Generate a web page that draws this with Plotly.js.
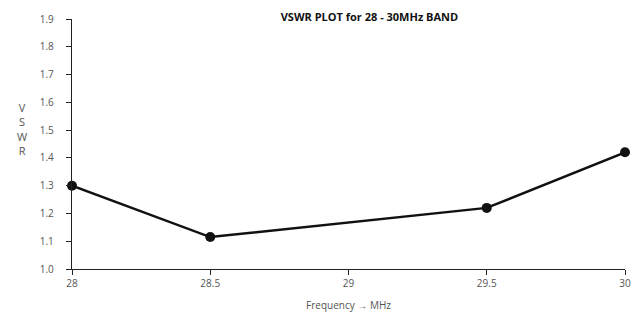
<!DOCTYPE html>
<html><head><meta charset="utf-8">
<script src="https://cdn.plot.ly/plotly-3.0.1.min.js"></script>
<style>html,body{margin:0;padding:0;background:#fff}</style>
</head><body>
<div id="chart" style="width:637px;height:312px"></div>
<script>
var freqMHz = [28, 28.5, 29.5, 30];
var vswr = [1.30, 1.115, 1.22, 1.42];
var xTicks = [28, 28.5, 29, 29.5, 30];
var xTickText = ["28", "28.5", "29", "29.5", "30"];
var yTicks = [1.0, 1.1, 1.2, 1.3, 1.4, 1.5, 1.6, 1.7, 1.8, 1.9];

var trace = {
  x: freqMHz, y: vswr, type: 'scatter', mode: 'lines+markers',
  line: {color: '#111', width: 2.5},
  marker: {color: '#111', size: 10},
  cliponaxis: false, hoverinfo: 'skip'
};
var layout = {
  width: 637, height: 312,
  margin: {l: 72, r: 12, t: 19, b: 43},
  paper_bgcolor: '#fff', plot_bgcolor: '#fff',
  showlegend: false,
  font: {family: 'Open Sans, sans-serif', color: '#555', size: 10},
  title: {text: '<b>VSWR PLOT for 28 - 30MHz BAND</b>', x: 0.58, xanchor: 'center', y: 0.945, yanchor: 'middle',
          font: {size: 11, color: '#111', family: 'Open Sans, sans-serif'}},
  xaxis: {range: [28, 30], tickvals: xTicks, ticktext: xTickText, showgrid: false, zeroline: false,
          showline: true, linecolor: '#222', linewidth: 1.2, ticks: 'outside', ticklen: 5, tickcolor: '#222',
          tickfont: {size: 10, color: '#555'},
          title: {text: 'Frequency → MHz', standoff: 12, font: {size: 10, color: '#555'}}},
  yaxis: {range: [1.0, 1.9], tickvals: yTicks, tickformat: '.1f', showgrid: false, zeroline: false,
          showline: true, linecolor: '#222', linewidth: 1.2, ticks: 'outside', ticklen: 5, tickcolor: '#222',
          ticklabelstandoff: 10,
          tickfont: {size: 10, color: '#555'}},
  annotations: [{text: 'V<br>S<br>W<br>R', xref: 'paper', yref: 'paper', x: -0.09, y: 0.56,
                 xanchor: 'center', yanchor: 'middle', showarrow: false, align: 'center',
                 font: {size: 11, color: '#555'}}]
};
Plotly.newPlot('chart', [trace], layout, {displayModeBar: false, staticPlot: true});
</script>
</body></html>
